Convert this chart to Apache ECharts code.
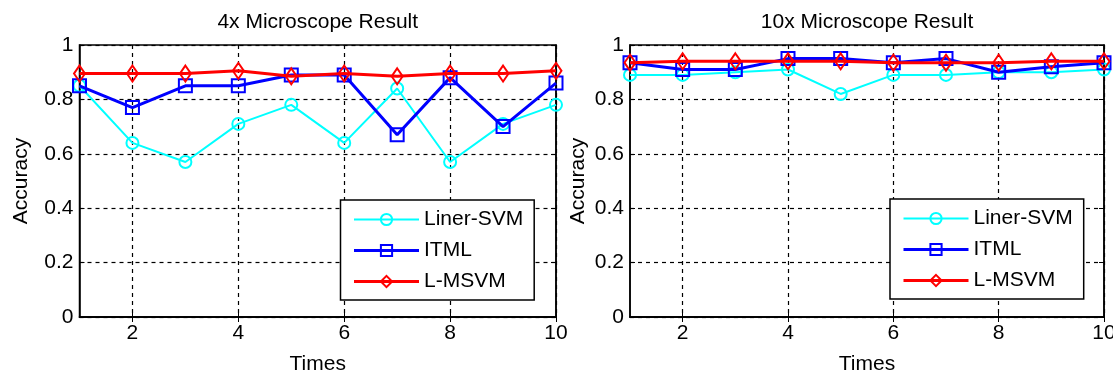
<!DOCTYPE html>
<html>
<head>
<meta charset="utf-8">
<script src="https://cdn.jsdelivr.net/npm/echarts@6/dist/echarts.min.js"></script>
<style>
html,body{margin:0;padding:0;background:#fff;}
#c{width:1113px;height:371px;}
</style>
</head>
<body>
<div id="c"></div>
<script>
// ---- data ----
var times = [1, 2, 3, 4, 5, 6, 7, 8, 9, 10];
var yTicks = [0, 0.2, 0.4, 0.6, 0.8, 1];
var seriesNames = ['Liner-SVM', 'ITML', 'L-MSVM'];
var titles = ['4x Microscope Result', '10x Microscope Result'];

var svm4x   = [0.85, 0.64, 0.57, 0.71, 0.78, 0.64, 0.84, 0.57, 0.71, 0.78];
var itml4x  = [0.85, 0.77, 0.85, 0.85, 0.89, 0.89, 0.67, 0.88, 0.70, 0.86];
var lmsvm4x = [0.895, 0.895, 0.895, 0.905, 0.885, 0.895, 0.885, 0.895, 0.895, 0.905];

var svm10x   = [0.89, 0.89, 0.90, 0.91, 0.82, 0.89, 0.89, 0.90, 0.90, 0.91];
var itml10x  = [0.935, 0.91, 0.91, 0.95, 0.95, 0.935, 0.95, 0.90, 0.92, 0.935];
var lmsvm10x = [0.935, 0.94, 0.94, 0.94, 0.94, 0.935, 0.935, 0.935, 0.94, 0.94];

// ---- styles ----
var FONT = 'Liberation Sans, Arial, sans-serif';
var TXT = '#000';
var FS = 21;
var styles = [
  {color: '#00ffff', symbol: 'circle', size: 12, width: 2},
  {color: '#0000ff', symbol: 'rect', size: 13, width: 3},
  {color: '#ff0000', symbol: 'diamond', size: [11, 16], width: 3}
];
var grids = [
  {left: 79.5, top: 45, width: 476.5, height: 272, yGap: 48},
  {left: 630, top: 45, width: 474, height: 272, yGap: 41}
];
var legendPos = [{left: 340.5, top: 200}, {left: 890, top: 199}];
var evenIdx = function (i) { return i % 2 === 1; };

var xAxes = [], yAxes = [], series = [], legends = [], titleArr = [];
var dataSets = [[svm4x, itml4x, lmsvm4x], [svm10x, itml10x, lmsvm10x]];

grids.forEach(function (g, gi) {
  xAxes.push({
    type: 'category', gridIndex: gi, data: times, boundaryGap: false,
    name: 'Times', nameLocation: 'middle', nameGap: 37,
    nameTextStyle: {fontFamily: FONT, fontSize: FS, color: TXT},
    axisLine: {lineStyle: {color: '#000', width: 1.5}},
    axisTick: {inside: true, length: 5, interval: evenIdx, lineStyle: {color: '#000'}},
    axisLabel: {interval: evenIdx, fontFamily: FONT, fontSize: FS, color: TXT, margin: 6},
    splitLine: {show: true, interval: evenIdx, lineStyle: {color: '#000', type: [4, 4], width: 1.2}}
  });
  xAxes.push({
    type: 'category', gridIndex: gi, data: times, boundaryGap: false, position: 'top',
    axisLine: {lineStyle: {color: '#000', width: 1.5}},
    axisTick: {inside: true, length: 5, interval: evenIdx, lineStyle: {color: '#000'}},
    axisLabel: {show: false}, splitLine: {show: false}
  });
  yAxes.push({
    type: 'value', gridIndex: gi, min: 0, max: 1, interval: 0.2,
    name: 'Accuracy', nameLocation: 'middle', nameGap: g.yGap,
    nameTextStyle: {fontFamily: FONT, fontSize: FS, color: TXT},
    axisLine: {show: true, lineStyle: {color: '#000', width: 1.5}},
    axisTick: {show: true, inside: true, length: 5, lineStyle: {color: '#000'}},
    axisLabel: {fontFamily: FONT, fontSize: FS, color: TXT, margin: 6,
      formatter: function (v) { return yTicks.indexOf(+v.toFixed(1)) >= 0 ? String(+v.toFixed(1)) : ''; }},
    splitLine: {show: true, lineStyle: {color: '#000', type: [4, 4], width: 1.2}}
  });
  yAxes.push({
    type: 'value', gridIndex: gi, min: 0, max: 1, interval: 0.2, position: 'right',
    axisLine: {show: true, lineStyle: {color: '#000', width: 1.5}},
    axisTick: {show: true, inside: true, length: 5, lineStyle: {color: '#000'}},
    axisLabel: {show: false}, splitLine: {show: false}
  });
  seriesNames.forEach(function (n, si) {
    var s = styles[si];
    series.push({
      type: 'line', name: n, xAxisIndex: gi * 2, yAxisIndex: gi * 2,
      data: dataSets[gi][si], symbol: s.symbol, symbolSize: s.size,
      showAllSymbol: true, animation: false,
      lineStyle: {color: s.color, width: s.width},
      itemStyle: {color: 'rgba(255,255,255,0)', borderColor: s.color, borderWidth: 2},
      emphasis: {disabled: true}, z: 2 + si
    });
  });
  titleArr.push({
    text: titles[gi], left: g.left + g.width / 2, top: 12, textAlign: 'center', padding: 0,
    textStyle: {fontFamily: FONT, fontSize: FS, fontWeight: 'normal', color: TXT}
  });
  legends.push({
    data: seriesNames, orient: 'vertical', left: legendPos[gi].left, top: legendPos[gi].top,
    itemWidth: 65, itemHeight: 14, itemGap: 10, padding: [9, 11, 8, 12],
    borderColor: '#000', borderWidth: 1.5, backgroundColor: '#fff',
    lineStyle: {width: 'inherit'},
    itemStyle: {borderWidth: 2},
    textStyle: {fontFamily: FONT, fontSize: FS, color: TXT}, selectedMode: false
  });
});

var chart = echarts.init(document.getElementById('c'), null, {renderer: 'canvas'});
chart.setOption({
  animation: false,
  backgroundColor: '#fff',
  title: titleArr,
  legend: legends,
  grid: grids.map(function (g) {
    return {left: g.left, top: g.top, width: g.width, height: g.height, show: true,
      borderColor: '#000', borderWidth: 1.5, backgroundColor: '#fff',
      containLabel: false, outerBoundsMode: 'none'};
  }),
  xAxis: xAxes,
  yAxis: yAxes,
  series: series
});
</script>
</body>
</html>
